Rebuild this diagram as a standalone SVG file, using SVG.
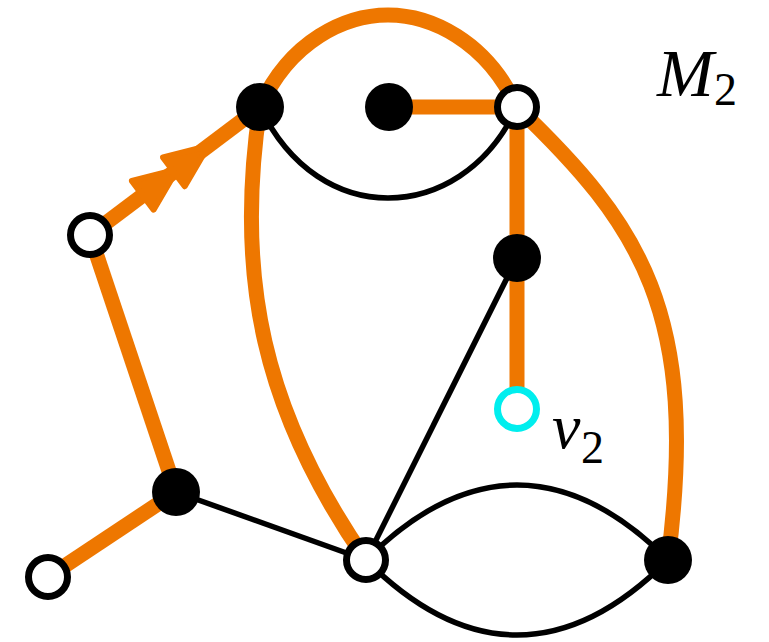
<svg xmlns="http://www.w3.org/2000/svg" xmlns:xlink="http://www.w3.org/1999/xlink" width="769" height="642" viewBox="0 0 769 642">
<style>
.o{fill:none;stroke:#ee7700;stroke-width:15;stroke-linecap:butt}
.k{fill:none;stroke:#000;stroke-width:5.5}
.f{fill:#000}
.w{fill:#fff;stroke:#000;stroke-width:7}
.c{fill:#fff;stroke:#00eeee;stroke-width:7}
.t{font-family:"Liberation Serif",serif;font-style:italic;fill:#000}
.s{font-family:"Liberation Serif",serif;fill:#000}
</style>
<defs>
<path id="ah" d="M0,0 L-43,-18 L-43,18 Z" fill="#ee7700" stroke="#ee7700" stroke-width="6" stroke-linejoin="round"/>
</defs>
<rect width="769" height="642" fill="#fff"/>
<g id="connectors">
<path class="o" d="M260,107 C290,40 346,15 388,15 C430,15 486,40 517,107"/>
<path class="k" d="M260,107 C290,170 340,198 388,198 C436,198 488,170 517,107"/>
<path class="o" d="M389,107 L517,107"/>
<path class="o" d="M517,107 L517,258 L517,409"/>
<path class="o" d="M517,107 C640,225 700,312 668,560"/>
<path class="o" d="M260,107 C234.5,277 263.4,412.4 366,560"/>
<path class="o" d="M90,235 L260,107"/>
<g transform="translate(90 235) rotate(-36.98)">
<use xlink:href="#ah" href="#ah" x="109"/>
<use xlink:href="#ah" href="#ah" x="148"/>
</g>
<path class="o" d="M90,235 L176,492"/>
<path class="o" d="M176,492 L48,577"/>
<path class="k" d="M176,492 L366,560"/>
<path class="k" d="M517,258 L366,560"/>
<path class="k" d="M366,560 C466,460 568,460 668,560"/>
<path class="k" d="M366,560 C466,660 568,660 668,560"/>
</g>
<g id="nA"><circle class="f" cx="260" cy="107" r="24"/></g>
<g id="nB"><circle class="f" cx="389" cy="107" r="24"/></g>
<g id="nC"><circle class="w" cx="517" cy="107" r="19.5"/></g>
<g id="nD"><circle class="f" cx="517" cy="258" r="24"/></g>
<g id="nE"><circle class="c" cx="517" cy="409" r="19.5"/></g>
<g id="nF"><circle class="w" cx="90" cy="235" r="19.5"/></g>
<g id="nG"><circle class="f" cx="176" cy="492" r="24"/></g>
<g id="nH"><circle class="w" cx="48" cy="577" r="19.5"/></g>
<g id="nI"><circle class="w" cx="366" cy="560" r="19.5"/></g>
<g id="nJ"><circle class="f" cx="668" cy="560" r="24"/></g>
<g id="labelM">
<text class="t" x="657" y="96" font-size="68">M</text>
<text class="s" x="714" y="105" font-size="46">2</text>
</g>
<g id="labelv">
<text class="t" x="552" y="448" font-size="64">v</text>
<text class="s" x="581" y="463" font-size="46">2</text>
</g>
</svg>
